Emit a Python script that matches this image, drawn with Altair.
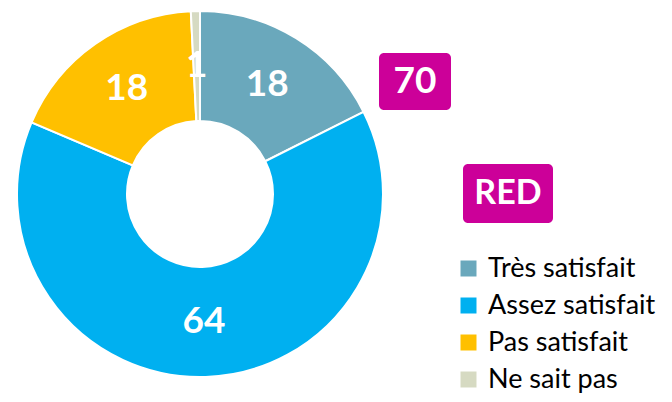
import altair as alt
import pandas as pd

categories = ["Très satisfait", "Assez satisfait", "Pas satisfait", "Ne sait pas"]
values = [17.6, 63.8, 17.8, 0.8]
labels = ["18", "64", "18", "1"]
colors = ["#6AA8BC", "#00B0F0", "#FFC000", "#D6DAC2"]
badge_values = ["70", "RED"]
badge_color = "#CC0099"

df = pd.DataFrame({"cat": categories, "value": values, "label": labels, "idx": list(range(len(categories)))})
bdf = pd.DataFrame({"badge": badge_values})

cx, cy = 192, 186
FONT = "Lato"

base = alt.Chart(df).encode(
    theta=alt.Theta("value:Q", stack=True),
    order=alt.Order("idx:Q"),
)

arcs = base.mark_arc(radius=183, innerRadius=73, stroke="white", strokeWidth=2).encode(
    color=alt.Color(
        "cat:N",
        scale=alt.Scale(domain=categories, range=colors),
        sort=categories,
        legend=alt.Legend(
            title=None, orient="none", legendX=447, legendY=247,
            symbolType="square", symbolSize=256, symbolStrokeWidth=0,
            labelFontSize=27, labelFont=FONT, labelColor="black",
            rowPadding=9, labelOffset=6, labelLimit=400,
        ),
    ),
    x=alt.value(cx), y=alt.value(cy),
)

texts = base.mark_text(radius=128, font=FONT, fontSize=37, fontWeight="bold",
                       color="white", baseline="middle", align="center").encode(
    text="label:N", x=alt.value(cx), y=alt.value(cy),
)

def badge(val, x1, x2, y1, y2, size):
    b = alt.Chart(bdf).transform_filter(alt.datum.badge == val)
    r = b.mark_rect(color=badge_color, cornerRadius=5).encode(
        x=alt.value(x1), x2=alt.value(x2), y=alt.value(y1), y2=alt.value(y2))
    t = b.mark_text(font=FONT, fontSize=size, fontWeight="bold", color="white",
                    baseline="middle", align="center").encode(
        text="badge:N", x=alt.value((x1 + x2) / 2), y=alt.value((y1 + y2) / 2))
    return r + t

chart = alt.layer(
    arcs, texts,
    badge("70", 371, 443, 45, 102, 37),
    badge("RED", 455, 545, 156, 215, 34),
).properties(
    width=656, height=386, padding=0,
    autosize=alt.AutoSizeParams(type="none"),
).configure_view(stroke=None)

chart.save("out.html", embed_options={"renderer": "svg", "actions": False})
